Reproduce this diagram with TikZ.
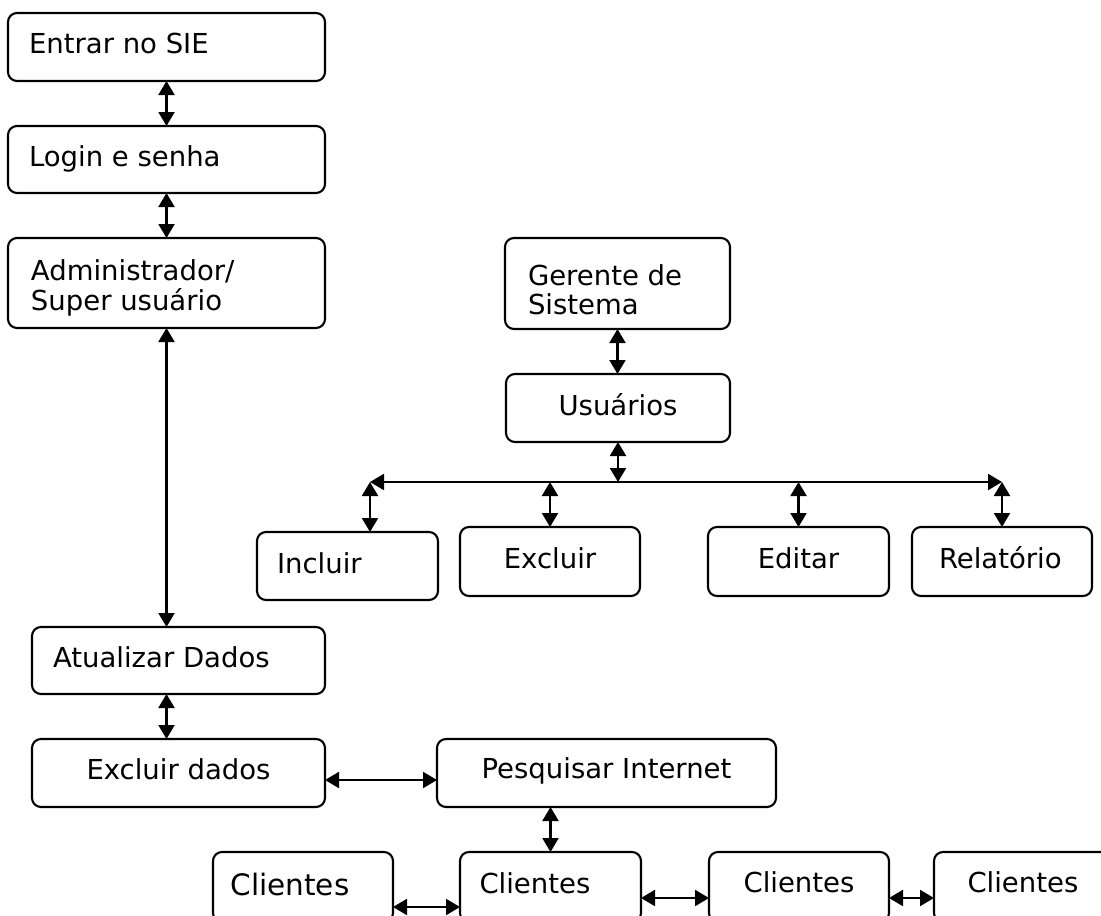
\documentclass[tikz,border=0pt]{standalone}
\usepackage{fontspec}
\setmainfont{DejaVu Sans}
\usetikzlibrary{arrows.meta}
\newcommand\boxtxt[3]{\makebox[#1pt][l]{\hspace{#2pt}#3}}
\newcommand\twolines[2]{\begin{tabular}[t]{@{}l@{}}#1\\#2\end{tabular}}
\begin{document}
\begin{tikzpicture}[x=1pt,y=-1pt,
  box/.style={draw, line width=2.1pt, rounded corners=9pt, anchor=north west,
    inner sep=0pt, outer sep=0pt, font=\fontsize{27.5}{28.5}\selectfont},
  bigfont/.style={font=\fontsize{29.5}{31}\selectfont},
  dbl/.style={{Triangle[width=16pt,length=14pt]}-{Triangle[width=16pt,length=14pt]}, line width=2.1pt}]
\useasboundingbox (0,0) rectangle (1101,916);
\clip (0,0) rectangle (1101,916);
% left column
\node[box, minimum width=317pt, text height=40pt, text depth=28pt] (entrar) at (8,13) {\boxtxt{317}{21}{Entrar no SIE}};
\node[box, minimum width=317pt, text height=40pt, text depth=27pt] (login) at (8,126) {\boxtxt{317}{21}{Login e senha}};
\node[box, minimum width=317pt, text height=42pt, text depth=48pt] (admin) at (8,238) {\boxtxt{317}{23}{\twolines{Administrador/}{Super usuário}}};
\node[box, minimum width=293pt, text height=40pt, text depth=27pt] (atualizar) at (32,627) {\boxtxt{293}{21}{Atualizar Dados}};
\node[box, minimum width=293pt, text height=40pt, text depth=28pt] (excluirdados) at (32,739) {Excluir dados};
\node[box, minimum width=339pt, text height=39pt, text depth=29pt] (pesquisar) at (437,739) {Pesquisar Internet};
% right part
\node[box, minimum width=225pt, text height=47pt, text depth=44pt] (gerente) at (505,238) {\boxtxt{225}{23}{\twolines{Gerente de}{Sistema}}};
\node[box, minimum width=224pt, text height=41pt, text depth=27pt] (usuarios) at (506,374) {Usuários};
\node[box, minimum width=181pt, text height=41pt, text depth=27pt] (incluir) at (257,532) {\boxtxt{181}{20}{Incluir}};
\node[box, minimum width=180pt, text height=41pt, text depth=28pt] (excluir) at (460,527) {Excluir};
\node[box, minimum width=181pt, text height=41pt, text depth=28pt] (editar) at (708,527) {Editar};
\node[box, minimum width=180pt, text height=41pt, text depth=28pt] (relatorio) at (912,527) {\boxtxt{180}{27}{Relatório}};
% bottom row
\node[box, bigfont, minimum width=180pt, text height=43pt, text depth=27pt] (c1) at (213,852) {\boxtxt{180}{17.5}{Clientes}};
\node[box, minimum width=181pt, text height=41pt, text depth=29pt] (c2) at (460,852) {\boxtxt{181}{19.5}{Clientes}};
\node[box, minimum width=180pt, text height=40pt, text depth=30pt] (c3) at (709,852) {Clientes};
\node[box, minimum width=180pt, text height=40pt, text depth=30pt] (c4) at (934,852) {\boxtxt{180}{33.5}{Clientes}};
% connectors
\draw[dbl] (entrar.south) -- (login.north);
\draw[dbl] (login.south) -- (admin.north);
\draw[dbl] (admin.south) -- (admin.south |- atualizar.north);
\draw[dbl] (atualizar.south -| admin.south) -- (excluirdados.north -| admin.south);
\draw[dbl] ([yshift=-7pt]excluirdados.east) -- ([yshift=-7pt]excluirdados.east -| pesquisar.west);
\draw[dbl] (c2.north |- pesquisar.south) -- (c2.north);
\draw[dbl] ([yshift=-20pt]c1.east) -- ([yshift=-20pt]c1.east -| c2.west);
\draw[dbl] ([yshift=-11pt]c2.east) -- ([yshift=-11pt]c2.east -| c3.west);
\draw[dbl] ([yshift=-11pt]c3.east) -- ([yshift=-11pt]c3.east -| c4.west);
\draw[dbl] (gerente.south) -- (gerente.south |- usuarios.north);
\coordinate (bus) at ([yshift=-40pt]usuarios.south);
\coordinate (busL) at ([xshift=22.5pt]incluir.north |- bus);
\coordinate (busR) at (relatorio.north |- bus);
\draw[dbl] (usuarios.south) -- (bus);
\draw[dbl] (busL) -- (busR);
\draw[dbl] (busL) -- (busL |- incluir.north);
\draw[dbl] (excluir.north |- bus) -- (excluir.north);
\draw[dbl] (editar.north |- bus) -- (editar.north);
\draw[dbl] (busR) -- (relatorio.north);
\end{tikzpicture}
\end{document}
